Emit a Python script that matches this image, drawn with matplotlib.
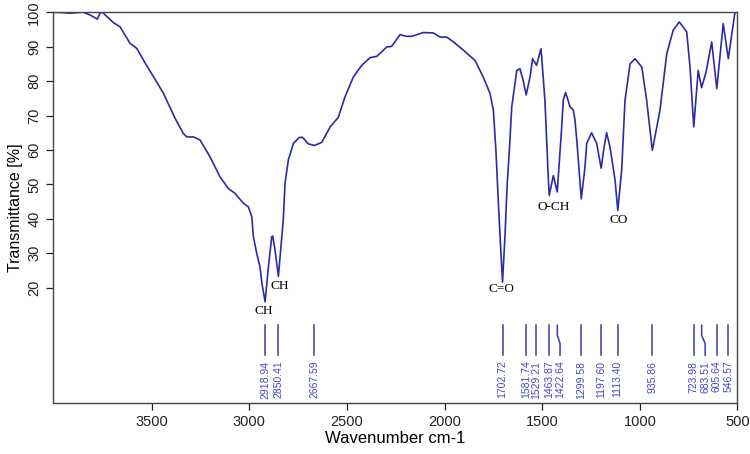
import matplotlib
matplotlib.use("Agg")
import matplotlib.pyplot as plt

# Spectrum trace (wavenumber cm-1, transmittance %)
wavenumber = [4000, 3950, 3918, 3865, 3850, 3815, 3778, 3764, 3752, 3730, 3696, 3662,
              3611, 3576, 3542, 3491, 3440, 3380, 3338, 3320, 3286, 3252, 3201, 3150,
              3107, 3073, 3030, 3005, 2987, 2979, 2962, 2945, 2935, 2919,
              2902, 2885, 2880, 2868, 2851, 2826, 2817, 2800, 2774, 2745, 2728, 2698,
              2667, 2629, 2587, 2544, 2510, 2467, 2424, 2382, 2347, 2296, 2271, 2228,
              2194, 2168, 2109, 2058, 2023, 1989, 1955, 1904, 1844, 1802, 1767, 1750,
              1737, 1725, 1712, 1703, 1690, 1679, 1668, 1656, 1630, 1614, 1598, 1582,
              1562, 1549, 1529, 1506, 1486, 1469, 1464, 1443, 1423, 1400, 1392, 1380,
              1358, 1341, 1332, 1323, 1315, 1300, 1281, 1272, 1247, 1221, 1198, 1183,
              1170, 1153, 1127,
              1113, 1093, 1076, 1050, 1025, 990, 965, 936, 897, 862, 829, 798, 760,
              743, 724, 701, 684, 661, 650, 632, 606, 573, 547, 513, 505]
transmittance = [100, 99.9, 99.7, 100, 100, 99.2, 98.0, 99.8, 100, 98.8, 97.0, 95.8,
                 91.0, 89.5, 86.1, 81.3, 76.5, 69.2, 64.8, 63.8, 63.8, 62.9, 58.0, 52.2,
                 48.8, 47.4, 44.5, 43.5, 40.6, 34.8, 30.0, 26.0, 21.2, 15.9,
                 26.0, 34.8, 35.0, 30.9, 23.3, 39.6, 50.3, 57.1, 61.9, 63.6, 63.7, 61.8,
                 61.3, 62.2, 66.6, 69.5, 75.4, 81.2, 84.6, 86.8, 87.2, 89.9, 90.1, 93.5,
                 93.0, 93.0, 94.1, 94.0, 92.8, 92.8, 91.4, 89.0, 86.0, 81.2, 76.4, 71.5,
                 59.9, 45.4, 30.9, 21.6, 35.8, 50.3, 60.0, 72.5, 83.1, 83.6, 80.3, 76.0,
                 81.3, 86.5, 84.6, 89.4, 74.4, 52.2, 46.8, 52.6, 47.8, 66.7, 74.5, 76.7,
                 72.6, 71.6, 68.7, 62.9, 57.1, 45.8, 55.0, 61.9, 65.0, 61.9, 54.7, 60.9,
                 65.0, 60.9, 51.3,
                 42.4, 54.2, 74.4, 85.0, 86.5, 84.1, 74.4, 59.9, 71.5, 88.0, 94.8, 97.2,
                 94.3, 84.1, 66.7, 83.1, 78.1, 82.6, 86.0, 91.4, 77.8, 96.7, 86.5, 100, 100]

# Peak list
peaks = [2918.94, 2850.41, 2667.59, 1702.72, 1581.74, 1529.21, 1463.87, 1422.64,
         1299.58, 1197.60, 1113.40, 935.86, 723.98, 683.51, 605.64, 546.57]
peak_labels = ["2918.94", "2850.41", "2667.59", "1702.72", "1581.74", "1529.21",
               "1463.87", "1422.64", "1299.58", "1197.60", "1113.40", "935.86",
               "723.98", "683.51", "605.64", "546.57"]

# Band assignments
band_names = ["CH", "CH", "C=O", "O-CH", "CO"]
band_wn = [2924, 2843, 1711, 1443, 1107]
band_t = [13.2, 20.4, 19.5, 43.5, 39.8]

fig = plt.figure(figsize=(7.5, 4.54), dpi=100)
ax = fig.add_axes([0.0707, 0.113, 0.9126, 0.860])

line_col = "#2b2ba6"
ax.plot(wavenumber, transmittance, color=line_col, lw=1.2, solid_joinstyle="round")

# label offsets for crowded peaks (layout only)
label_shift = {"1422.64": -14, "683.51": -18}
peak_col = "#3a3aa8"
for wn, lab in zip(peaks, peak_labels):
    d = label_shift.get(lab, 0)
    if d:
        ax.plot([wn, wn, wn + d, wn + d], [9.1, 6.2, 3.8, 0.4], color=peak_col, lw=1.1)
    else:
        ax.plot([wn, wn], [0.4, 9.1], color=peak_col, lw=1.1)
    ax.text(wn + d, -1.2, lab, rotation=90, ha="center", va="top",
            fontsize=7.5, color="#4646c8", family="Liberation Sans")

for name, x, y in zip(band_names, band_wn, band_t):
    ax.text(x, y, name, ha="center", va="center", fontsize=9.5,
            family="Liberation Serif", color="black")

ax.set_xlim(4005, 500)
ax.set_ylim(-13.4, 100)
ax.set_xticks([3500, 3000, 2500, 2000, 1500, 1000, 500])
ax.set_yticks([20, 30, 40, 50, 60, 70, 80, 90, 100])
for lbl in ax.get_yticklabels():
    lbl.set_rotation(90)
    lbl.set_va("center")
ax.tick_params(labelsize=10.5, length=5, width=0.9, colors="#222222")
for t in ax.get_xticklabels() + ax.get_yticklabels():
    t.set_family("Liberation Sans")
for s in ax.spines.values():
    s.set_color("#444444")
    s.set_linewidth(1.0)

ax.set_xlabel("Wavenumber cm-1", fontsize=12, family="Liberation Sans", labelpad=2)
ax.set_ylabel("Transmittance [%]", fontsize=11.5, family="Liberation Sans", labelpad=3)

fig.savefig("out.png", dpi=100)
